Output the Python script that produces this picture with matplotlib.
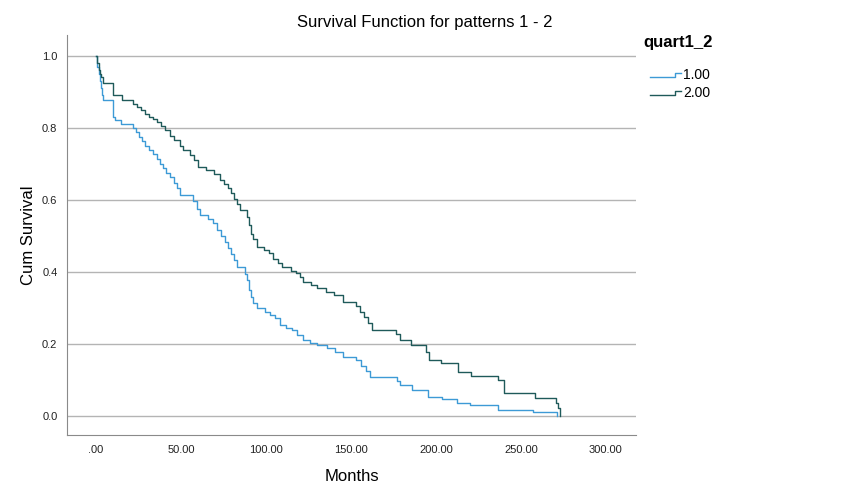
import numpy as np
import matplotlib
matplotlib.use('Agg')
import matplotlib.pyplot as plt
from matplotlib.lines import Line2D
from matplotlib.legend_handler import HandlerBase

plt.rcParams['font.family'] = ['Liberation Sans', 'DejaVu Sans']

# Kaplan-Meier step points (months, cumulative survival)
months_1 = [0, 0.6, 1.5, 2.4, 2.9, 3.5, 4.1, 10.0, 11.2, 14.7, 21.8, 23.5, 25.3, 27.1,
            28.8, 31.2, 33.5, 35.9, 37.6, 39.4, 41.2, 43.5, 45.9, 47.6, 49.4, 57.1,
            59.4, 61.2, 65.9, 68.8, 71.2, 73.5, 75.9, 77.6, 79.4, 81.2, 82.9, 87.6,
            88.8, 90.0, 91.2, 92.4, 94.7, 99.4, 102.4, 105.3, 108.2, 111.8, 115.3,
            118.2, 121.8, 125.9, 130.0, 135.9, 140.6, 145.3, 152.9, 155.9, 158.8,
            161.2, 177.1, 178.8, 185.9, 195.3, 203.5, 212.4, 220.0, 236.5, 257.0, 271.2]
surv_1 = [1.0, 0.97, 0.95, 0.93, 0.91, 0.89, 0.878, 0.83, 0.822, 0.811, 0.80, 0.789,
          0.775, 0.764, 0.75, 0.739, 0.728, 0.714, 0.70, 0.689, 0.675, 0.664, 0.647,
          0.633, 0.614, 0.597, 0.575, 0.558, 0.547, 0.536, 0.517, 0.50, 0.483, 0.467,
          0.45, 0.433, 0.414, 0.395, 0.378, 0.35, 0.33, 0.314, 0.30, 0.29, 0.281,
          0.272, 0.253, 0.245, 0.239, 0.225, 0.21, 0.203, 0.197, 0.189, 0.178, 0.164,
          0.156, 0.139, 0.125, 0.108, 0.096, 0.086, 0.072, 0.053, 0.047, 0.036, 0.031,
          0.017, 0.011, 0.0]

months_2 = [0, 0.6, 1.5, 2.4, 3.2, 4.1, 10.0, 15.3, 21.8, 24.1, 26.5, 28.8, 31.2, 33.5,
            35.9, 38.2, 40.6, 43.5, 45.9, 49.4, 51.2, 55.3, 57.6, 60.0, 64.7, 69.4,
            72.9, 75.3, 77.6, 79.4, 81.2, 82.9, 84.7, 88.8, 90.0, 91.2, 92.4, 94.7,
            98.8, 101.8, 104.1, 107.1, 109.4, 114.7, 117.6, 120.0, 121.8, 126.5, 130.0,
            135.3, 140.0, 145.3, 152.9, 155.3, 157.6, 160.0, 162.4, 176.5, 178.8, 185.3,
            194.1, 195.9, 202.9, 212.9, 220.6, 236.5, 240.0, 258.2, 270.6, 271.8, 272.9]
surv_2 = [1.0, 0.98, 0.96, 0.95, 0.94, 0.925, 0.892, 0.878, 0.867, 0.858, 0.850, 0.839,
          0.831, 0.825, 0.817, 0.806, 0.794, 0.778, 0.767, 0.750, 0.739, 0.725, 0.711,
          0.692, 0.683, 0.672, 0.656, 0.645, 0.633, 0.619, 0.603, 0.589, 0.572, 0.553,
          0.530, 0.506, 0.492, 0.47, 0.461, 0.453, 0.436, 0.425, 0.414, 0.403, 0.397,
          0.386, 0.372, 0.364, 0.356, 0.344, 0.336, 0.317, 0.306, 0.289, 0.275, 0.258,
          0.239, 0.228, 0.211, 0.197, 0.178, 0.156, 0.147, 0.122, 0.111, 0.100, 0.064,
          0.05, 0.036, 0.022, 0.0]

group_labels = ['1.00', '2.00']
colors = ['#3d9ad6', '#1f5a5a']

x_ticks = [0, 50, 100, 150, 200, 250, 300]
x_tick_labels = ['.00', '50.00', '100.00', '150.00', '200.00', '250.00', '300.00']
y_ticks = [0.0, 0.2, 0.4, 0.6, 0.8, 1.0]


class StepHandler(HandlerBase):
    # legend icon drawn as a small step, like the SPSS survival legend
    def create_artists(self, legend, orig_handle, xdescent, ydescent, width, height,
                       fontsize, trans):
        x = np.array([0, width * 0.8, width * 0.8, width]) - xdescent
        y = np.array([height * 0.2, height * 0.2, height * 0.65, height * 0.65]) - ydescent
        line = Line2D(x, y, color=orig_handle.get_color(), lw=1, transform=trans)
        return [line]


fig = plt.figure(figsize=(8.5, 5), dpi=100)
ax = fig.add_axes([0.079, 0.13, 0.669, 0.80])

ax.step(months_1, surv_1, where='post', color=colors[0], lw=1)
ax.step(months_2, surv_2, where='post', color=colors[1], lw=1)

ax.set_xlim(-17, 317.6)
ax.set_ylim(-0.053, 1.058)
ax.set_xticks(x_ticks)
ax.set_xticklabels(x_tick_labels)
ax.set_yticks(y_ticks)
ax.set_yticklabels(['%.1f' % v for v in y_ticks])
ax.tick_params(length=0, labelsize=8, colors='#222222', pad=7)

ax.yaxis.grid(True, color='#b4b4b4', lw=1)
ax.set_axisbelow(True)
for s in ['top', 'right']:
    ax.spines[s].set_visible(False)
for s in ['left', 'bottom']:
    ax.spines[s].set_color('#8a8a8a')

ax.set_xlabel('Months', fontsize=12, labelpad=10, fontweight='medium')
ax.set_ylabel('Cum Survival', fontsize=12, labelpad=4, fontweight='medium')
fig.text(0.5, 0.955, 'Survival Function for patterns 1 - 2', ha='center', va='center', fontsize=12)

# legend title placed separately to match the wide gap above the entries
fig.text(643 / 850, 1 - 43 / 500, 'quart1_2', ha='left', va='center', fontsize=12,
         fontweight='bold')
handles = [Line2D([0], [0], color=c) for c in colors]
leg = fig.legend(handles, group_labels, loc='upper left',
                 bbox_to_anchor=(0.757, 0.878), frameon=False, fontsize=10,
                 handler_map={Line2D: StepHandler()}, handlelength=2.2,
                 handletextpad=0.15, labelspacing=0.28, borderpad=0)

plt.savefig('out.png', dpi=100)
